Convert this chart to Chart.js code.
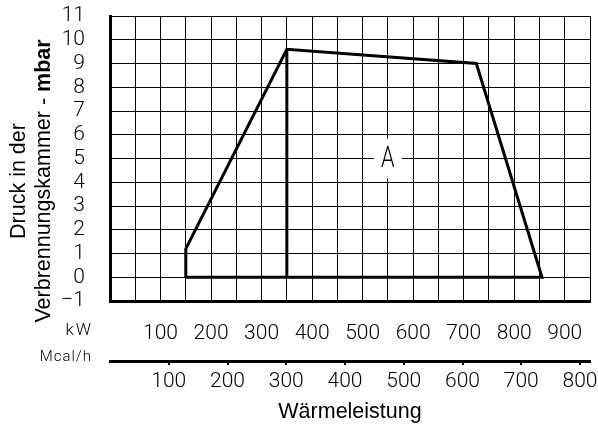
<!DOCTYPE html>
<html>
<head>
<meta charset="utf-8">
<script src="https://cdn.jsdelivr.net/npm/chart.js@4/dist/chart.umd.min.js"></script>
<style>
  html, body { margin: 0; padding: 0; background: #fff; }
  #wrap { width: 598px; height: 432px; }
</style>
</head>
<body>
<div id="wrap"><canvas id="burnerChart" width="598" height="432"></canvas></div>
<script>
// working field of the burner (kW vs. mbar)
const fieldKW = [150, 150, 350, 725, 855, 150];
const fieldMbar = [0, 1.2, 9.6, 9.0, 0, 0];
// vertical divider inside the field
const dividerKW = [350, 350];
const dividerMbar = [0, 9.6];

// tick labels
const kwTicks = [100, 200, 300, 400, 500, 600, 700, 800, 900];
const mcalTicks = [100, 200, 300, 400, 500, 600, 700, 800];
const mbarTicks = [-1, 0, 1, 2, 3, 4, 5, 6, 7, 8, 9, 10, 11];

const KW_MAX = 950;
const KW_TO_MCAL = 0.86;
const regionLabel = { text: 'A', kw: 550, mbar: 5 };

const tickFont = { family: 'Roboto, "Liberation Sans", sans-serif', size: 21, weight: 300 };
const titleFamily = '"Liberation Sans", Arial, sans-serif';
const titleSize = 21.5;

const toPoints = (xs, ys) => xs.map((v, i) => ({ x: v, y: ys[i] }));

const overlay = {
    id: 'overlay',
    afterDatasetsDraw(chart) {
        const { ctx, scales: { x, y } } = chart;
        const px = x.getPixelForValue(regionLabel.kw);
        const py = y.getPixelForValue(regionLabel.mbar);
        ctx.save();
        ctx.fillStyle = '#fff';
        ctx.fillRect(px - 14, py - 20, 28, 40);
        ctx.fillStyle = '#000';
        ctx.translate(px, py + 1);
        ctx.scale(0.75, 1);
        ctx.font = '300 29px Roboto, "Liberation Sans", sans-serif';
        ctx.textAlign = 'center';
        ctx.textBaseline = 'middle';
        ctx.fillText(regionLabel.text, 0, 0);
        ctx.restore();
    },
    afterDraw(chart) {
        const { ctx, scales: { x, x2 } } = chart;
        ctx.save();
        ctx.fillStyle = '#000';

        // unit labels in front of the two power axes
        ctx.textAlign = 'right';
        ctx.textBaseline = 'middle';
        ctx.letterSpacing = '2px';
        ctx.font = '300 17px Roboto, "Liberation Sans", sans-serif';
        ctx.fillText('kW', 93, x.top + 30);
        ctx.letterSpacing = '1px';
        ctx.font = '300 15px Roboto, "Liberation Sans", sans-serif';
        ctx.fillText('Mcal/h', 92, x2.top - 4);
        ctx.letterSpacing = '0px';

        // y title, two lines, "mbar" in bold
        ctx.translate(0, 181);
        ctx.rotate(-Math.PI / 2);
        ctx.textBaseline = 'alphabetic';
        ctx.textAlign = 'center';
        ctx.font = titleSize + 'px ' + titleFamily;
        ctx.fillText('Druck in der', 0, 25);

        const normal = 'Verbrennungskammer - ';
        const bold = 'mbar';
        const w1 = ctx.measureText(normal).width;
        ctx.font = 'bold ' + titleSize + 'px ' + titleFamily;
        const w2 = ctx.measureText(bold).width;
        const start = -(w1 + w2) / 2;
        ctx.textAlign = 'left';
        ctx.font = titleSize + 'px ' + titleFamily;
        ctx.fillText(normal, start, 50);
        ctx.font = 'bold ' + titleSize + 'px ' + titleFamily;
        ctx.fillText(bold, start + w1, 50);
        ctx.restore();
    }
};

new Chart(document.getElementById('burnerChart').getContext('2d'), {
    type: 'line',
    data: {
        datasets: [
            {
                data: toPoints(fieldKW, fieldMbar),
                borderColor: '#000',
                borderWidth: 3,
                borderJoinStyle: 'miter',
                pointRadius: 0,
                tension: 0,
                xAxisID: 'x',
                yAxisID: 'y'
            },
            {
                data: toPoints(dividerKW, dividerMbar),
                borderColor: '#000',
                borderWidth: 3,
                pointRadius: 0,
                xAxisID: 'x',
                yAxisID: 'y'
            }
        ]
    },
    options: {
        responsive: false,
        animation: false,
        devicePixelRatio: 1,
        layout: { padding: { top: 16, right: 8, bottom: 0, left: 0 } },
        plugins: { legend: { display: false }, tooltip: { enabled: false } },
        scales: {
            x: {
                type: 'linear',
                position: 'bottom',
                min: 0,
                max: KW_MAX,
                afterFit: (s) => { s.height = 60; s.paddingLeft = 0; s.paddingRight = 0; },
                grid: { color: '#000', lineWidth: 1, drawTicks: false },
                border: { display: true, color: '#000', width: 3 },
                ticks: {
                    stepSize: 50,
                    autoSkip: false,
                    maxRotation: 0,
                    padding: 20,
                    color: '#000',
                    font: tickFont,
                    callback: (v) => kwTicks.includes(v) ? String(v) : ''
                }
            },
            x2: {
                type: 'linear',
                position: 'bottom',
                min: 0,
                max: KW_MAX * KW_TO_MCAL,
                afterFit: (s) => { s.height = 71; s.paddingLeft = 0; s.paddingRight = 0; },
                grid: {
                    drawOnChartArea: false,
                    drawTicks: true,
                    tickLength: 4,
                    lineWidth: 2,
                    color: (c) => (c.tick && mcalTicks.includes(c.tick.value)) ? '#000' : 'rgba(0,0,0,0)'
                },
                border: { display: true, color: '#000', width: 3 },
                ticks: {
                    stepSize: 100,
                    includeBounds: false,
                    autoSkip: false,
                    maxRotation: 0,
                    padding: 4,
                    color: '#000',
                    font: tickFont,
                    callback: (v) => mcalTicks.includes(v) ? String(v) : ''
                },
                title: {
                    display: true,
                    text: 'Wärmeleistung',
                    color: '#000',
                    font: { family: titleFamily, size: titleSize },
                    padding: { top: 0, bottom: 7 }
                }
            },
            y: {
                type: 'linear',
                min: -1,
                max: 11,
                afterFit: (s) => { s.width = 110; s.paddingTop = 10; s.paddingBottom = 10; },
                grid: { color: '#000', lineWidth: 1, drawTicks: false },
                border: { display: true, color: '#000', width: 3 },
                ticks: {
                    stepSize: 1,
                    autoSkip: false,
                    padding: 25,
                    color: '#000',
                    font: tickFont,
                    callback: (v) => mbarTicks.includes(v) ? (v < 0 ? '\u2212' + Math.abs(v) : String(v)) : ''
                }
            }
        }
    },
    plugins: [overlay]
});
</script>
</body>
</html>
